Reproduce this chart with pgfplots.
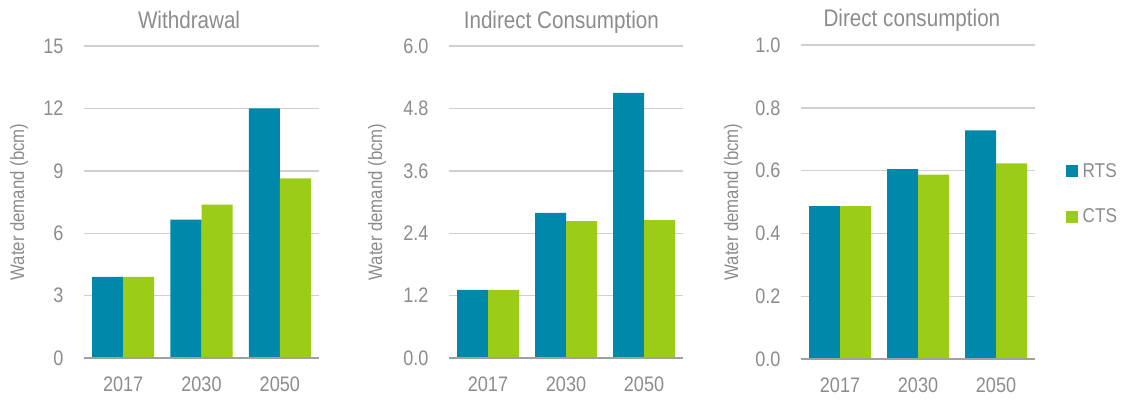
\documentclass[border=0pt]{standalone}
\usepackage{fontspec}
\setmainfont{Liberation Sans}[FakeStretch=0.86]
\usepackage{pgfplots}
\pgfplotsset{compat=1.18}
\definecolor{rts}{RGB}{0,136,170}
\definecolor{cts}{RGB}{155,204,24}
\definecolor{txt}{RGB}{140,140,140}
\definecolor{gridc}{RGB}{208,208,208}
\definecolor{basec}{RGB}{160,160,160}
\pgfplotsset{
  panel/.style={
    scale only axis,
    width=235pt, height=312pt,
    xmin=-0.5, xmax=2.5, ymin=0,
    xtick={0,1,2}, xticklabels={2017,2030,2050},
    axis line style={draw=none},
    major tick length=0pt,
    ymajorgrids, grid style={gridc, line width=1.4pt},
    tick label style={font=\fontsize{21}{24}\selectfont, text=txt},
    /pgf/number format/assume math mode=true,
    xticklabel style={yshift=-15pt},
    yticklabel style={xshift=-17pt},
    title style={font=\fontsize{24}{28}\selectfont, text=txt, anchor=base},
    every axis y label/.style={at={(rel axis cs:0,0.5)}, rotate=90, anchor=center,
      font=\fontsize{19.5}{23}\selectfont, text=txt},
    after end axis/.code={\draw[basec, line width=1.4pt] (rel axis cs:0,0) -- (rel axis cs:1,0);},
  },
  rtsbar/.style={ybar, bar width=31pt, bar shift=-15.5pt, fill=rts, draw=none},
  ctsbar/.style={ybar, bar width=31pt, bar shift=15.5pt, fill=cts, draw=none},
}
\begin{document}
\begin{tikzpicture}[x=1pt,y=1pt]
\useasboundingbox (0,0) rectangle (1124,400);
% Panel 1
\begin{axis}[panel, at={(84pt,42pt)}, anchor=south west,
  width=235pt, height=312pt,
  ymax=15, ytick={0,3,6,9,12,15},
  title={Withdrawal}, title style={at={(rel axis cs:0.447,1)}, yshift=12pt},
  ylabel={Water demand (bcm)}, ylabel style={yshift=65pt}]
\addplot[rtsbar] coordinates {(0,3.9) (1,6.65) (2,12.0)};
\addplot[ctsbar] coordinates {(0,3.9) (1,7.37) (2,8.63)};
\end{axis}
% Panel 2
\begin{axis}[panel, at={(449pt,42pt)}, anchor=south west,
  width=234pt, height=312pt,
  ymax=6, ytick={0,1.2,2.4,3.6,4.8,6.0},
  yticklabel style={/pgf/number format/.cd, fixed, fixed zerofill, precision=1},
  title={Indirect Consumption}, title style={at={(rel axis cs:0.48,1)}, yshift=12pt},
  ylabel={Water demand (bcm)}, ylabel style={yshift=72pt}]
\addplot[rtsbar] coordinates {(0,1.31) (1,2.79) (2,5.10)};
\addplot[ctsbar] coordinates {(0,1.31) (1,2.63) (2,2.65)};
\end{axis}
% Panel 3
\begin{axis}[panel, at={(801pt,41pt)}, anchor=south west,
  width=234pt, height=314pt,
  ymax=1, ytick={0,0.2,0.4,0.6,0.8,1.0},
  yticklabel style={/pgf/number format/.cd, fixed, fixed zerofill, precision=1},
  title={Direct consumption}, title style={at={(rel axis cs:0.474,1)}, yshift=12pt},
  ylabel={Water demand (bcm)}, ylabel style={yshift=68pt},
  legend style={at={(rel axis cs:1.13,0.63)}, anchor=north west, draw=none, fill=none,
    font=\fontsize{20}{23}\selectfont, text=txt, row sep=26pt, inner sep=0pt},
  legend cell align=left,
  legend image code/.code={\fill[#1] (0pt,-6pt) rectangle (12pt,6pt); \path (15pt,0pt);}]
\addplot[rtsbar] coordinates {(0,0.487) (1,0.605) (2,0.728)};
\addlegendentry{RTS}
\addplot[ctsbar] coordinates {(0,0.487) (1,0.587) (2,0.623)};
\addlegendentry{CTS}
\end{axis}
\end{tikzpicture}
\end{document}
